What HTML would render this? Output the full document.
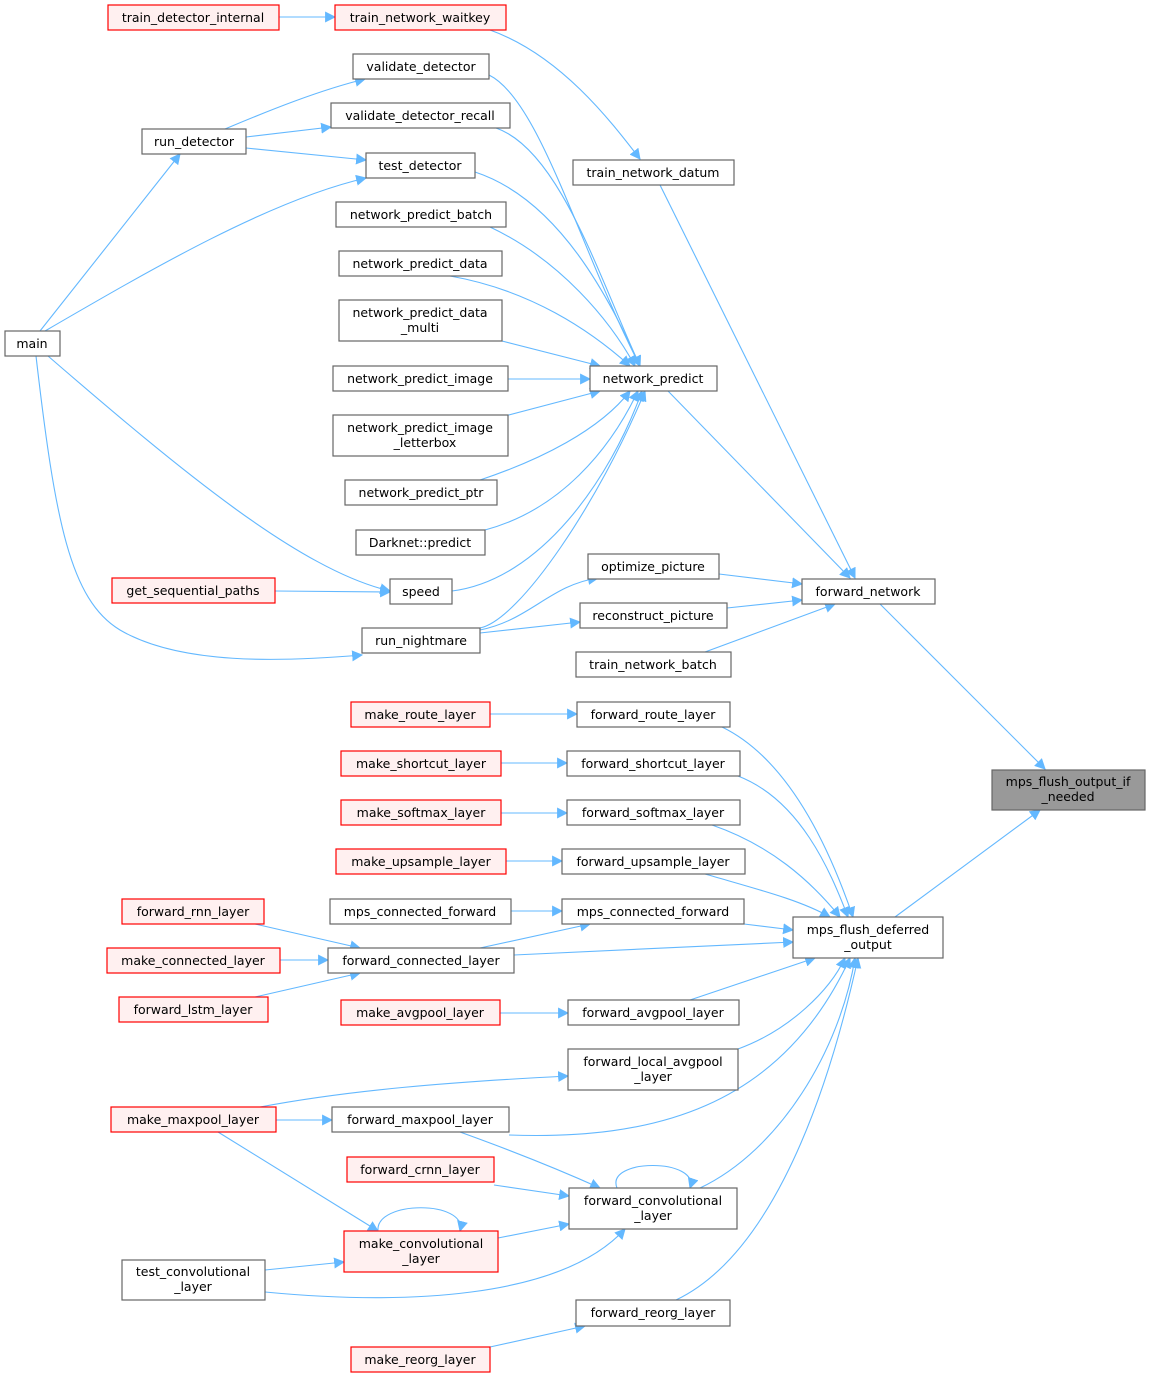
<!DOCTYPE html>
<html><head><meta charset="utf-8"><style>
html,body{margin:0;padding:0;background:#fff}
svg text{font-family:"DejaVu Sans","Liberation Sans",sans-serif;font-size:12.5px;fill:#000;text-anchor:middle}
.n{fill:#fff;stroke:#666;stroke-width:1.2}
.r{fill:#fff0f0;stroke:#f00;stroke-width:1.2}
.g{fill:#999;stroke:#666;stroke-width:1.2}
.e{fill:none;stroke:#63b8ff;stroke-width:1.1}
</style></head><body>
<svg width="1151" height="1379" viewBox="0 0 1151 1379" xmlns="http://www.w3.org/2000/svg">
<defs><marker id="a" viewBox="0 0 10 10" refX="9" refY="5" markerWidth="11" markerHeight="11" markerUnits="userSpaceOnUse" orient="auto"><path d="M0,0 L10,5 L0,10 z" fill="#63b8ff"/></marker></defs>
<g class="e" marker-end="url(#a)">
<path d="M279,17 L335,17"/>
<path d="M490,30 C560,55 610,120 640,159"/>
<path d="M660,185 L855,578"/>
<path d="M668,391 L850,578"/>
<path d="M719,574 L802,584"/>
<path d="M727,608 L802,600"/>
<path d="M705,652 L835,604"/>
<path d="M880,604 L1045,769"/>
<path d="M895,917 L1040,810"/>
<path d="M489,75 C540,100 580,250 640,366"/>
<path d="M496,128 C560,150 600,280 640,366"/>
<path d="M475,172 C560,200 610,300 640,366"/>
<path d="M490,227 C560,260 610,320 635,366"/>
<path d="M450,276 C530,290 590,330 630,366"/>
<path d="M502,341 L600,366"/>
<path d="M508,379 L590,379"/>
<path d="M505,416 L600,391"/>
<path d="M480,480 C540,460 600,430 630,391"/>
<path d="M485,530 C560,510 610,450 638,391"/>
<path d="M452,591 C540,580 610,480 642,391"/>
<path d="M480,628 C520,620 600,500 645,391"/>
<path d="M480,630 C530,620 550,585 598,578"/>
<path d="M480,633 L580,622"/>
<path d="M225,129 C270,110 320,90 365,79"/>
<path d="M246,137 L331,127"/>
<path d="M246,148 L366,160"/>
<path d="M40,331 L180,154"/>
<path d="M45,331 C150,270 270,200 366,178"/>
<path d="M48,356 C180,470 300,570 390,591"/>
<path d="M275,591 L390,592"/>
<path d="M36,356 C55,520 70,600 120,630 C180,665 280,662 362,655"/>
<path d="M490,714 L577,714"/>
<path d="M501,763 L567,763"/>
<path d="M501,813 L567,813"/>
<path d="M506,861 L562,861"/>
<path d="M722,727 C790,760 830,850 853,917"/>
<path d="M738,776 C800,800 830,870 848,917"/>
<path d="M712,825 C770,845 810,880 840,917"/>
<path d="M705,874 C760,890 800,900 830,917"/>
<path d="M744,924 L793,930"/>
<path d="M511,911 L562,911"/>
<path d="M514,955 L793,942"/>
<path d="M480,948 L590,924"/>
<path d="M255,924 L360,948"/>
<path d="M280,960 L328,960"/>
<path d="M255,997 L360,973"/>
<path d="M500,1013 L568,1013"/>
<path d="M690,1000 L815,958"/>
<path d="M738,1049 C790,1030 830,990 845,958"/>
<path d="M509,1135 C650,1140 780,1110 850,958"/>
<path d="M700,1188 C780,1150 840,1050 855,958"/>
<path d="M676,1300 C760,1260 820,1130 858,958"/>
<path d="M260,1107 C350,1090 450,1082 568,1076"/>
<path d="M276,1120 L332,1120"/>
<path d="M460,1132 C510,1150 560,1170 600,1188"/>
<path d="M494,1185 L569,1196"/>
<path d="M498,1238 L569,1224"/>
<path d="M218,1132 L378,1231"/>
<path d="M617,1188 C605,1158 700,1158 690,1188"/>
<path d="M378,1231 C375,1200 468,1200 460,1231"/>
<path d="M265,1270 L344,1262"/>
<path d="M265,1292 C400,1305 560,1300 625,1229"/>
<path d="M490,1347 L585,1326"/>
</g>
<g>
<rect class="r" x="108" y="5" width="171" height="25"/><text x="193" y="22">train_detector_internal</text>
<rect class="r" x="335" y="5" width="171" height="25"/><text x="420" y="22">train_network_waitkey</text>
<rect class="n" x="353" y="54" width="136" height="25"/><text x="421" y="71">validate_detector</text>
<rect class="n" x="331" y="103" width="179" height="25"/><text x="420" y="120">validate_detector_recall</text>
<rect class="n" x="142" y="129" width="104" height="25"/><text x="194" y="146">run_detector</text>
<rect class="n" x="366" y="153" width="109" height="25"/><text x="420" y="170">test_detector</text>
<rect class="n" x="573" y="160" width="161" height="25"/><text x="653" y="177">train_network_datum</text>
<rect class="n" x="336" y="202" width="170" height="25"/><text x="421" y="219">network_predict_batch</text>
<rect class="n" x="339" y="251" width="163" height="25"/><text x="420" y="268">network_predict_data</text>
<rect class="n" x="339" y="300" width="163" height="41"/><text x="420" y="317">network_predict_data</text><text x="420" y="332">_multi</text>
<rect class="n" x="5" y="331" width="55" height="25"/><text x="32" y="348">main</text>
<rect class="n" x="333" y="366" width="175" height="25"/><text x="420" y="383">network_predict_image</text>
<rect class="n" x="590" y="366" width="127" height="25"/><text x="653" y="383">network_predict</text>
<rect class="n" x="333" y="415" width="175" height="41"/><text x="420" y="432">network_predict_image</text><text x="425" y="447">_letterbox</text>
<rect class="n" x="345" y="480" width="152" height="25"/><text x="421" y="497">network_predict_ptr</text>
<rect class="n" x="356" y="530" width="129" height="25"/><text x="420" y="547">Darknet::predict</text>
<rect class="n" x="588" y="554" width="131" height="25"/><text x="653" y="571">optimize_picture</text>
<rect class="r" x="112" y="578" width="163" height="25"/><text x="193" y="595">get_sequential_paths</text>
<rect class="n" x="390" y="579" width="62" height="25"/><text x="421" y="596">speed</text>
<rect class="n" x="802" y="579" width="133" height="25"/><text x="868" y="596">forward_network</text>
<rect class="n" x="580" y="603" width="147" height="25"/><text x="653" y="620">reconstruct_picture</text>
<rect class="n" x="362" y="628" width="118" height="25"/><text x="421" y="645">run_nightmare</text>
<rect class="n" x="576" y="652" width="155" height="25"/><text x="653" y="669">train_network_batch</text>
<rect class="r" x="351" y="702" width="139" height="25"/><text x="420" y="719">make_route_layer</text>
<rect class="n" x="577" y="702" width="153" height="25"/><text x="653" y="719">forward_route_layer</text>
<rect class="r" x="341" y="751" width="160" height="25"/><text x="421" y="768">make_shortcut_layer</text>
<rect class="n" x="567" y="751" width="173" height="25"/><text x="653" y="768">forward_shortcut_layer</text>
<rect class="g" x="992" y="770" width="153" height="40"/><text x="1068" y="786">mps_flush_output_if</text><text x="1068" y="801">_needed</text>
<rect class="r" x="341" y="800" width="160" height="25"/><text x="421" y="817">make_softmax_layer</text>
<rect class="n" x="567" y="800" width="173" height="25"/><text x="653" y="817">forward_softmax_layer</text>
<rect class="r" x="336" y="849" width="170" height="25"/><text x="421" y="866">make_upsample_layer</text>
<rect class="n" x="562" y="849" width="183" height="25"/><text x="653" y="866">forward_upsample_layer</text>
<rect class="r" x="122" y="899" width="142" height="25"/><text x="193" y="916">forward_rnn_layer</text>
<rect class="n" x="330" y="899" width="181" height="25"/><text x="420" y="916">mps_connected_forward</text>
<rect class="n" x="562" y="899" width="182" height="25"/><text x="653" y="916">mps_connected_forward</text>
<rect class="n" x="793" y="917" width="150" height="41"/><text x="868" y="934">mps_flush_deferred</text><text x="868" y="949">_output</text>
<rect class="r" x="107" y="948" width="173" height="25"/><text x="193" y="965">make_connected_layer</text>
<rect class="n" x="328" y="948" width="186" height="25"/><text x="421" y="965">forward_connected_layer</text>
<rect class="r" x="119" y="997" width="149" height="25"/><text x="193" y="1014">forward_lstm_layer</text>
<rect class="r" x="341" y="1000" width="159" height="25"/><text x="420" y="1017">make_avgpool_layer</text>
<rect class="n" x="568" y="1000" width="171" height="25"/><text x="653" y="1017">forward_avgpool_layer</text>
<rect class="n" x="568" y="1049" width="170" height="41"/><text x="653" y="1066">forward_local_avgpool</text><text x="653" y="1081">_layer</text>
<rect class="r" x="111" y="1107" width="165" height="25"/><text x="193" y="1124">make_maxpool_layer</text>
<rect class="n" x="332" y="1107" width="177" height="25"/><text x="420" y="1124">forward_maxpool_layer</text>
<rect class="r" x="347" y="1157" width="147" height="25"/><text x="420" y="1174">forward_crnn_layer</text>
<rect class="n" x="569" y="1188" width="168" height="41"/><text x="653" y="1205">forward_convolutional</text><text x="653" y="1220">_layer</text>
<rect class="r" x="344" y="1231" width="154" height="41"/><text x="421" y="1248">make_convolutional</text><text x="421" y="1263">_layer</text>
<rect class="n" x="122" y="1260" width="143" height="40"/><text x="193" y="1276">test_convolutional</text><text x="193" y="1291">_layer</text>
<rect class="n" x="576" y="1300" width="154" height="26"/><text x="653" y="1317">forward_reorg_layer</text>
<rect class="r" x="351" y="1347" width="139" height="25"/><text x="420" y="1364">make_reorg_layer</text>
</g>
</svg>
</body></html>
